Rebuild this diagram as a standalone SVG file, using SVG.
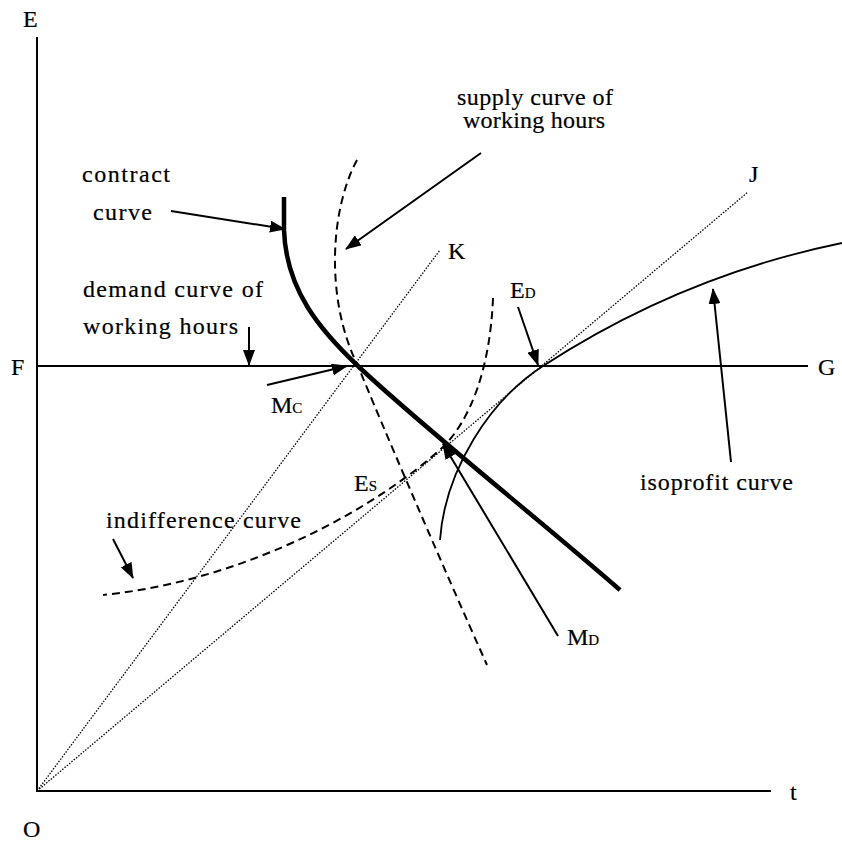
<svg xmlns="http://www.w3.org/2000/svg" width="842" height="841" viewBox="0 0 842 841">
<style>
text{font-family:"Liberation Serif","Times New Roman",serif;font-size:24px;fill:#000;stroke:#000;stroke-width:0.2}
.sub{font-size:15px}
.axis{stroke:#000;stroke-width:2;fill:none}
.dot{stroke:#000;stroke-width:1.3;stroke-dasharray:1.5 1.5;fill:none}
.dash{stroke:#000;stroke-width:2;stroke-dasharray:8 5;fill:none}
.thick{stroke:#000;stroke-width:4.5;fill:none}
.thin{stroke:#000;stroke-width:1.8;fill:none}
.arr{stroke:#000;stroke-width:2;fill:none;marker-end:url(#ah)}
</style>
<defs>
<marker id="ah" markerUnits="userSpaceOnUse" markerWidth="16" markerHeight="12" refX="15" refY="6" orient="auto">
<path d="M0,0 L16,6 L0,12 z" fill="#000"/>
</marker>
</defs>
<rect width="842" height="841" fill="#fff"/>
<g id="axes">
<path class="axis" d="M37,37 L37,791 L771,791"/>
<path class="axis" d="M37,366 L808,366"/>
</g>
<g id="rays">
<path class="dot" d="M37,791 L440,250"/>
<path class="dot" d="M37,791 L748,192"/>
</g>
<g id="curves">
<path id="contract-curve" class="thick" d="M284,197 L284,230 C286,290 320,330 358,366 C420,425 540,520 620,590"/>
<path id="supply-curve" class="dash" d="M357,160 C330,210 325,300 358,366 C380,420 440,560 487,665"/>
<path id="indifference-curve" class="dash" d="M493,298 C490,370 470,420 443,447 C380,505 250,580 103,595"/>
<path id="isoprofit-curve" class="thin" d="M440,540 C445,470 490,400 543,366 C620,316 720,268 842,243"/>
</g>
<g id="connectors">
<path class="arr" d="M171,211 L285,229"/>
<path class="arr" d="M249,327 L249,365"/>
<path class="arr" d="M267,385 L347,366"/>
<path class="arr" d="M481,153 L346,249"/>
<path class="arr" d="M518,307 L538,365"/>
<path class="arr" d="M113,539 L133,578"/>
<path class="arr" d="M731,462 L713,289"/>
<path class="arr" d="M558,636 L443,444"/>
</g>
<g id="labels">
<text x="23" y="27">E</text>
<text x="23" y="837">O</text>
<text x="790" y="800">t</text>
<text x="11" y="375">F</text>
<text x="818" y="375">G</text>
<text x="749" y="182">J</text>
<text x="448" y="259">K</text>
<text x="510" y="298">E<tspan class="sub">D</tspan></text>
<text x="271" y="413">M<tspan class="sub">C</tspan></text>
<text x="354" y="491">E<tspan class="sub">S</tspan></text>
<text x="567" y="645">M<tspan class="sub">D</tspan></text>
<text x="82" y="182" textLength="88">contract</text>
<text x="93" y="220" textLength="59">curve</text>
<text x="83" y="297" textLength="180">demand curve of</text>
<text x="83" y="334" textLength="155">working hours</text>
<text x="457" y="105" textLength="156">supply curve of</text>
<text x="463" y="128" textLength="142">working hours</text>
<text x="106" y="528" textLength="195">indifference curve</text>
<text x="640" y="490" textLength="153">isoprofit curve</text>
</g>
</svg>
